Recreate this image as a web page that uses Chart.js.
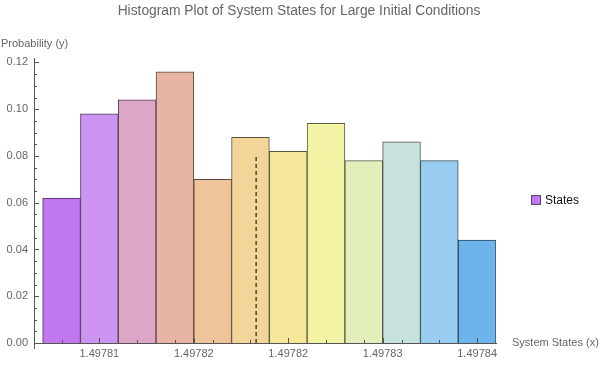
<!DOCTYPE html>
<html>
<head>
<meta charset="utf-8">
<script src="https://cdn.jsdelivr.net/npm/chart.js@4"></script>
<style>
  html, body { margin: 0; padding: 0; background: #fff; }
  #wrap { width: 600px; height: 383px; position: relative; }
</style>
</head>
<body>
<div id="wrap"><canvas id="c"></canvas></div>
<script>
// bin centres (x) and probability of each bin (y)
var binCenters = [1.497813, 1.497815, 1.497817, 1.497819, 1.497821, 1.497823,
                  1.497825, 1.497827, 1.497829, 1.497831, 1.497833, 1.497835];
var probs = [0.062, 0.098, 0.104, 0.116, 0.070, 0.088, 0.082, 0.094, 0.078, 0.086, 0.078, 0.044];
var barColors = ["#c178ee", "#cd94f2", "#dca6c6", "#e8b4a6", "#eec49a", "#f3d59a",
                 "#f6e79a", "#f2f3a4", "#e3efbb", "#c7e2dc", "#99cdf1", "#6db3ec"];

// dashed marker line (x position, height)
var markX = [1.4978233, 1.4978233];
var markY = [0, 0.080];

// axis ticks
var xMajor = [1.497815, 1.497820, 1.497825, 1.497830, 1.497835];
var xLabels = ["1.49781", "1.49782", "1.49782", "1.49783", "1.49784"];
var yMajor = [0, 0.02, 0.04, 0.06, 0.08, 0.10, 0.12];
var yLabels = ["0.00", "0.02", "0.04", "0.06", "0.08", "0.10", "0.12"];
var yMinorStep = 0.005;

var TITLE = "Histogram Plot of System States for Large Initial Conditions";
var FONT = "'Liberation Sans', Arial, sans-serif";
var GRAY = "#666666";

function darker(hex, f) {
  var n = parseInt(hex.slice(1), 16);
  var r = Math.round(((n >> 16) & 255) * f), g = Math.round(((n >> 8) & 255) * f), b = Math.round((n & 255) * f);
  return "rgb(" + r + "," + g + "," + b + ")";
}

var barData = binCenters.map(function (x, i) { return { x: x, y: probs[i] }; });
var lineData = markX.map(function (x, i) { return { x: x, y: markY[i] }; });

function near(a, b) { return Math.abs(a - b) < 1e-10; }

// title, inward tick marks, axis titles, legend
var extras = {
  id: "extras",
  afterDraw: function (chart) {
    var ctx = chart.ctx, xs = chart.scales.x, ys = chart.scales.y, a = chart.chartArea;
    ctx.save();
    ctx.strokeStyle = "#555";
    ctx.lineWidth = 1;
    ctx.beginPath();
    // y axis extension below origin
    ctx.moveTo(a.left + 0.5, a.bottom);
    ctx.lineTo(a.left + 0.5, a.bottom + 6);
    // y ticks
    for (var v = 0; v <= 0.1201; v += yMinorStep) {
      var py = Math.round(ys.getPixelForValue(v)) + 0.5;
      var major = Math.abs(v / 0.02 - Math.round(v / 0.02)) < 1e-6;
      ctx.moveTo(a.left, py);
      ctx.lineTo(a.left + (major ? 5 : 3), py);
    }
    // x ticks: minor at bin centres, major at labels
    binCenters.forEach(function (x) {
      var px = Math.round(xs.getPixelForValue(x)) + 0.5;
      ctx.moveTo(px, a.bottom);
      ctx.lineTo(px, a.bottom - 3);
    });
    xMajor.forEach(function (x) {
      var px = Math.round(xs.getPixelForValue(x)) + 0.5;
      ctx.moveTo(px, a.bottom);
      ctx.lineTo(px, a.bottom - 5);
    });
    ctx.stroke();

    ctx.fillStyle = GRAY;
    ctx.textBaseline = "middle";
    ctx.textAlign = "center";
    ctx.font = "13.8px " + FONT;
    ctx.fillText(TITLE, 299, 11);

    ctx.textAlign = "left";
    ctx.font = "11px " + FONT;
    ctx.fillText("Probability (y)", 1, 44);
    ctx.fillText("System States (x)", 512, a.bottom);

    // legend
    ctx.fillStyle = barColors[0];
    ctx.fillRect(531.5, 195.5, 9, 9);
    ctx.strokeStyle = "#5a4a66";
    ctx.strokeRect(531.5, 195.5, 9, 9);
    ctx.fillStyle = "#111";
    ctx.font = "12px " + FONT;
    ctx.fillText("States", 545, 200.5);
    ctx.restore();
  }
};

new Chart(document.getElementById("c"), {
  type: "bar",
  data: {
    datasets: [
      {
        type: "line",
        data: lineData,
        borderColor: "#222",
        borderWidth: 1.2,
        borderDash: [4, 3],
        pointRadius: 0,
        order: 0
      },
      {
        label: "States",
        data: barData,
        backgroundColor: barColors,
        borderColor: barColors.map(function (c) { return darker(c, 0.38); }),
        borderWidth: 1,
        barPercentage: 1,
        categoryPercentage: 1,
        order: 1
      }
    ]
  },
  options: {
    responsive: true,
    maintainAspectRatio: false,
    animation: false,
    layout: { padding: { left: 0, right: 104, top: 58, bottom: 0 } },
    plugins: {
      legend: { display: false },
      tooltip: { enabled: false },
      title: { display: false }
    },
    scales: {
      x: {
        type: "linear",
        offset: false,
        min: 1.49781154,
        max: 1.497836,
        grid: { display: false, drawTicks: false },
        border: { display: true, color: "#555", width: 1 },
        afterBuildTicks: function (s) { s.ticks = xMajor.map(function (v) { return { value: v }; }); },
        afterFit: function (s) { s.height = 40; },
        ticks: {
          autoSkip: false,
          maxRotation: 0,
          padding: 4,
          color: GRAY,
          font: { family: FONT, size: 11 },
          callback: function (v) {
            for (var i = 0; i < xMajor.length; i++) if (near(v, xMajor[i])) return xLabels[i];
            return "";
          }
        }
      },
      y: {
        min: 0,
        max: 0.1219,
        grid: { display: false, drawTicks: false },
        border: { display: true, color: "#555", width: 1 },
        afterBuildTicks: function (s) { s.ticks = yMajor.map(function (v) { return { value: v }; }); },
        afterFit: function (s) { s.width = 34; },
        ticks: {
          autoSkip: false,
          padding: 6,
          color: GRAY,
          font: { family: FONT, size: 11 },
          callback: function (v) {
            for (var i = 0; i < yMajor.length; i++) if (near(v, yMajor[i])) return yLabels[i];
            return "";
          }
        }
      }
    }
  },
  plugins: [extras]
});
</script>
</body>
</html>
